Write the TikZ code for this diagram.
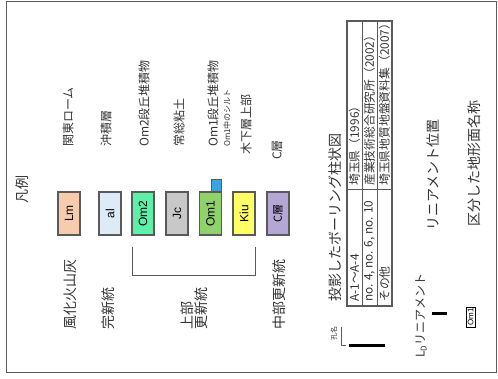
\documentclass[tikz,border=0pt]{standalone}
\usepackage{fontspec}
\setmainfont{Liberation Serif}
\newfontfamily\jp{Noto Sans CJK JP}
\newfontfamily\arl{Liberation Sans}
\definecolor{txt}{HTML}{333333}
\definecolor{bd}{HTML}{5A5A5A}
\definecolor{cLm}{HTML}{F8CBAD}
\definecolor{cal}{HTML}{DDEBF7}
\definecolor{cOmtwo}{HTML}{5EF0A8}
\definecolor{cJc}{HTML}{C8C8C8}
\definecolor{cOmone}{HTML}{8FD16A}
\definecolor{cKiu}{HTML}{FFFF66}
\definecolor{cC}{HTML}{B4A7D6}
\definecolor{cBlue}{HTML}{3BA3E0}
\begin{document}
\begin{tikzpicture}[x=1pt,y=-1pt,
  lbl/.style={rotate=90,anchor=west,inner sep=0pt,text=txt,font=\jp\fontsize{12}{12}\selectfont},
  biglbl/.style={lbl,font=\jp\fontsize{14}{14}\selectfont},
  tbl/.style={lbl,font=\jp\fontsize{11.8}{11.8}\selectfont},
  unitbox/.style={rotate=90,draw=bd,line width=1.3pt,minimum width=43pt,minimum height=22pt,inner sep=0pt,font=\arl\fontsize{12}{12}\selectfont,text=black}]
\useasboundingbox (0,0) rectangle (498,379);
\draw[bd,line width=1.5pt] (6.5,1.5) rectangle (496.5,372.5);
% title
\node[rotate=90,inner sep=0pt,text=txt,font=\jp\fontsize{14}{14}\selectfont] (title) at (22,190) {凡例};
% top labels
\node[lbl] (tLm) at (68,147) {関東ローム};
\node[lbl] (tal) at (106,147) {沖積層};
\node[lbl] (tOm2) at (144,147) {Om2段丘堆積物};
\node[lbl] (tJc) at (179,147) {常総粘土};
\node[lbl] (tOm1) at (213,147) {Om1段丘堆積物};
\node[lbl,font=\jp\fontsize{8}{8}\selectfont] (tsilt) at (227,147) {Om1中のシルト};
\node[lbl] (tKiu) at (246,155) {木下層上部};
\node[lbl] (tC) at (277,160) {C層};
% unit boxes
\node[draw=bd,fill=cBlue,line width=1pt,minimum width=10pt,minimum height=12pt,inner sep=0pt] (silt) at (216,186) {};
\node[unitbox,fill=cLm] (bLm) at (69,213.5) {Lm};
\node[unitbox,fill=cal] (bal) at (110,213.5) {al};
\node[unitbox,fill=cOmtwo] (bOm2) at (143,213.5) {Om2};
\node[unitbox,fill=cJc] (bJc) at (177,213.5) {Jc};
\node[unitbox,fill=cOmone] (bOm1) at (210.5,213.5) {Om1};
\node[unitbox,fill=cKiu] (bKiu) at (244,213.5) {Kiu};
\node[unitbox,fill=cC,font=\jp\fontsize{11}{11}\selectfont] (bC) at (278,213.5) {C層};
% bracket
\coordinate (brL) at (132,247);
\coordinate (brR) at (255,247);
\draw[bd,line width=0.8pt] (brL) -- (132,275) -- (255,275) -- (brR);
% bottom labels
\node[biglbl] (sLm) at (70,330) {風化火山灰};
\node[biglbl] (sal) at (108,330) {完新統};
\node[biglbl] (sUp1) at (187,330) {上部};
\node[biglbl] (sUp2) at (201,330) {更新統};
\node[biglbl] (sMid) at (279,330) {中部更新統};
% boring legend
\node[biglbl] (bor) at (335,302) {投影したボーリング柱状図};
\node[rotate=90,inner sep=0pt,text=txt,font=\jp\fontsize{7}{7}\selectfont] (hole) at (334,334) {孔名};
\coordinate (holeA) at (341,327);
\coordinate (holeB) at (346,345);
\draw[bd,line width=0.5pt] (holeA) |- (holeB);
\coordinate (barA) at (349,345.5);
\coordinate (barB) at (385,345.5);
\draw[black,line width=3pt] (barA) -- (barB);
% table
\draw[bd,line width=1.2pt] (347,21) rectangle (392,306);
\draw[bd,line width=0.6pt] (362,21) -- (362,306) (377,21) -- (377,306) (347,189) -- (392,189);
\node[tbl] (r1a) at (354.5,302) {A-1～A-4};
\node[tbl] (r2a) at (369.5,302) {no. 4, no. 6, no. 10};
\node[tbl] (r3a) at (384.5,302) {その他};
\node[tbl] (r1b) at (354.5,186) {埼玉県（1996）};
\node[tbl] (r2b) at (369.5,186) {産業技術総合研究所（2002）};
\node[tbl] (r3b) at (384.5,186) {埼玉県地質地盤資料集（2007）};
% lineament
\node[lbl] (lin) at (421,358) {L\textsubscript{D}リニアメント};
\coordinate (linA) at (432,314);
\coordinate (linB) at (447,314);
\draw[black,line width=3pt] (linA) -- (linB);
\node[biglbl] (linpos) at (433,231) {リニアメント位置};
% terrace name
\node[rotate=90,draw=black,line width=0.7pt,fill=white,inner sep=1pt,minimum width=20pt,minimum height=9pt,font=\arl\fontsize{8}{8}\selectfont] (om1s) at (470.5,317) {Om1};
\node[biglbl] (terr) at (474,227) {区分した地形面名称};
\end{tikzpicture}
\end{document}
